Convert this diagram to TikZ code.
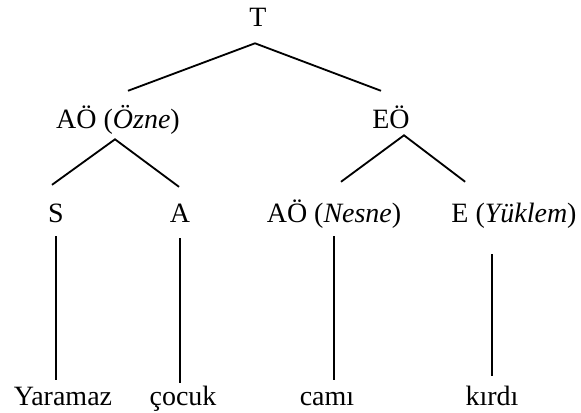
\documentclass[tikz,border=0pt]{standalone}
\usepackage{fontspec}
\setmainfont{Liberation Serif}
\usetikzlibrary{positioning}

\tikzset{
    cat/.style={anchor=base, inner sep=0pt, text height=14pt, text depth=4pt,
                font=\fontsize{19.9}{24}\selectfont},
    branch/.style={line width=1.3pt}
}

\begin{document}
\begin{tikzpicture}
                        \useasboundingbox (0,0) rectangle (14.525,10.3);

                        \node[cat] (T) at (6.45,9.625) {T};
                        \node[cat] (AOz) at (2.95,7.075) {AÖ (\textit{Özne})};
                        \node[cat] (EO) at (9.775,7.075) {EÖ};

                        \node[cat] (S) at (1.4,4.75) {S};
                        \node[cat] (A) at (4.5,4.75) {A};
                        \node[cat] (AOn) at (8.35,4.75) {AÖ (\textit{Nesne})};
                        \node[cat] (E) at (12.85,4.75) {E (\textit{Yüklem})};

                        \node[cat] (w1) at (1.575,0.175) {Yaramaz};
                        \node[cat] (w2) at (4.575,0.175) {çocuk};
                        \node[cat] (w3) at (8.175,0.175) {camı};
                        \node[cat] (w4) at (12.3,0.175) {kırdı};

                        \draw[branch] ([shift={(0.25,0.456)}]AOz.north) -- ([shift={(-0.075,-0.26)}]T.south)
                                -- ([shift={(-0.25,0.456)}]EO.north);
                        \draw[branch] ([shift={(-0.1,0.43)}]S.north) -- ([shift={(-0.075,-0.11)}]AOz.south)
                                -- ([shift={(-0.025,0.38)}]A.north);
                        \draw[branch] ([shift={(0.175,0.506)}]AOn.north) -- ([shift={(0.325,-0.01)}]EO.south)
                                -- ([shift={(0.35,0.506)}]E.north west);

                        \draw[branch, shorten <=0.21cm, shorten >=0.13cm] (S.south) -- (S.south |- w1.north);
                        \draw[branch, shorten <=0.26cm, shorten >=0.056cm] (A.south) -- (A.south |- w2.north);
                        \draw[branch, shorten <=0.21cm, shorten >=0.13cm] (AOn.south) -- (AOn.south |- w3.north);
                        \draw[branch, shorten <=0.23cm, shorten >=0.66cm] (w4.north) -- (w4.north |- E.south);
                    \end{tikzpicture}
\end{document}
